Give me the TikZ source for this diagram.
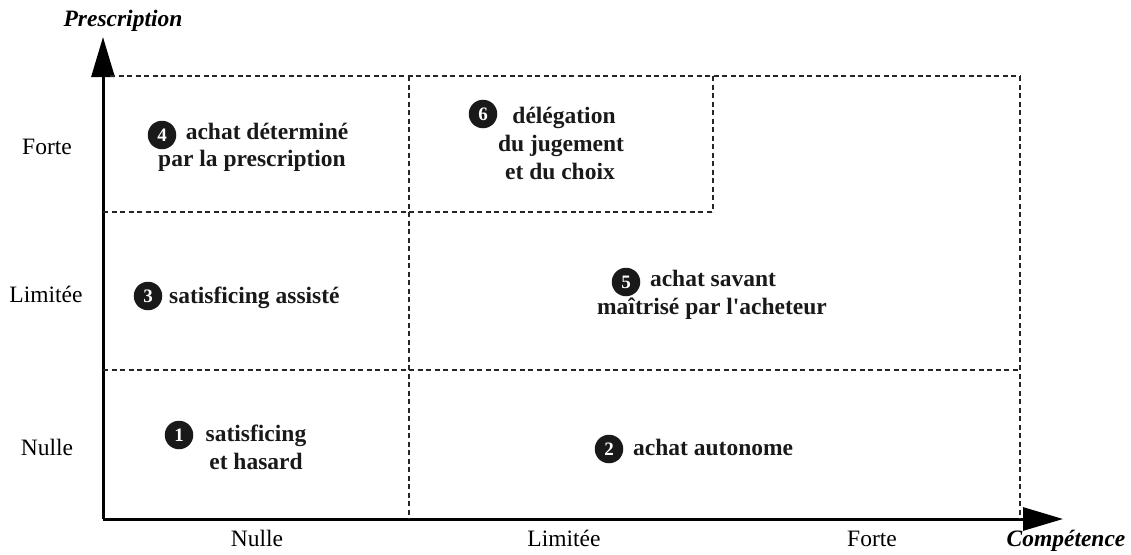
\documentclass[tikz,border=0pt]{standalone}
\usepackage{fontspec}
\setmainfont{Liberation Serif}
\usetikzlibrary{arrows.meta}
\begin{document}
\begin{tikzpicture}[x=1pt,y=-1pt,
  axis/.style={line width=3pt,-{Triangle[length=40pt,width=23pt]}},
  grid/.style={line width=1.1pt,dash pattern=on 5pt off 3.5pt,black!85},
  lab/.style={font=\fontsize{23.5}{27}\selectfont,anchor=base,inner sep=0pt},
  ttl/.style={font=\fontsize{23.5}{27}\selectfont\bfseries\itshape,anchor=base,inner sep=0pt},
  txt/.style={font=\fontsize{23.5}{27}\selectfont\bfseries,anchor=base,inner sep=0pt,text=black!90},
  num/.style={circle,fill=black!90,minimum size=28.5pt,inner sep=0pt,text=white,font=\fontsize{19}{19}\selectfont\bfseries}]
\useasboundingbox (0,0) rectangle (1131,554);

% axes
\coordinate (O) at (103,519);
\coordinate (ytop) at (103,37);
\coordinate (xend) at (1063,519);
\draw[axis] (O) -- (ytop);
\draw[axis] (O) -- (xend);

% grid corners
\coordinate (tl) at (110,76);
\coordinate (tm) at (409,76);
\coordinate (tb) at (713,76);
\coordinate (tr) at (1020,76);
\coordinate (bm) at (409,519);
\coordinate (br) at (1020,519);
\coordinate (r1l) at (103,212);
\coordinate (r1b) at (713,212);
\coordinate (r2l) at (103,370);
\coordinate (r2r) at (1020,370);

\draw[grid] (tl) -- (tr);
\draw[grid] (r1l) -- (r1b);
\draw[grid] (r2l) -- (r2r);
\draw[grid] (tm) -- (bm);
\draw[grid] (tb) -- (r1b);
\draw[grid] (tr) -- (br);

% axis titles
\node[ttl] (py) at (123,27) {Prescription};
\node[ttl] (px) at (1066,546) {Compétence};

% y labels
\node[lab] (yf) at (47,154) {Forte};
\node[lab] (yl) at (46,302) {Limitée};
\node[lab] (yn) at (47,455) {Nulle};

% x labels
\node[lab] (xn) at (257,546) {Nulle};
\node[lab] (xl) at (564,546) {Limitée};
\node[lab] (xf) at (872,546) {Forte};

% block 4
\node[num] (n4) at (162,135) {4};
\node[txt] (t4a) at (267,139) {achat déterminé};
\node[txt] (t4b) at (252,166) {par la prescription};

% block 6
\node[num] (n6) at (483,114) {6};
\node[txt] (t6a) at (564,123) {délégation};
\node[txt] (t6b) at (561,151) {du jugement};
\node[txt] (t6c) at (560,179) {et du choix};

% block 3
\node[num] (n3) at (148,296) {3};
\node[txt,anchor=base west] (t3) at (169,303) {satisficing assisté};

% block 5
\node[num] (n5) at (626,282) {5};
\node[txt] (t5a) at (713,286) {achat savant};
\node[txt] (t5b) at (712,314) {maîtrisé par l\textquotesingle acheteur};

% block 1
\node[num] (n1) at (179,435) {1};
\node[txt] (t1a) at (256,441) {satisficing};
\node[txt] (t1b) at (256,469) {et hasard};

% block 2
\node[num] (n2) at (609,449) {2};
\node[txt,anchor=base west] (t2) at (633,455) {achat autonome};
\end{tikzpicture}
\end{document}
